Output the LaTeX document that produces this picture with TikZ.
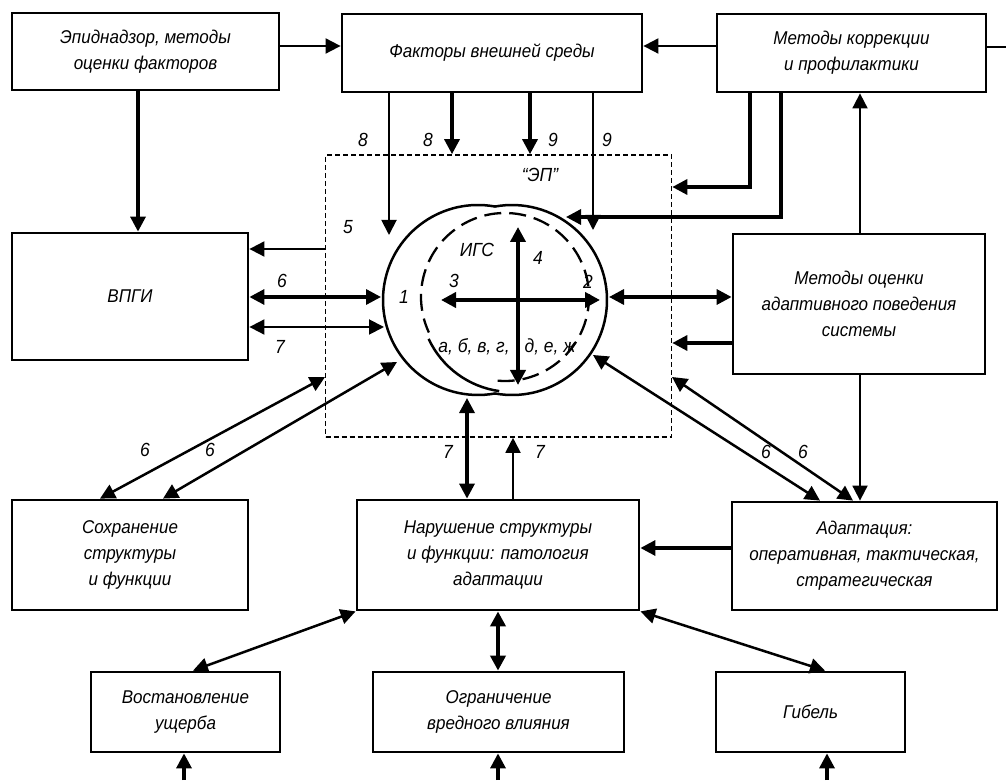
\documentclass[tikz,border=0pt]{standalone}
\usepackage{fontspec}
\setmainfont{Liberation Sans}[FakeStretch=0.92]
\usetikzlibrary{arrows.meta}
\begin{document}
\begin{tikzpicture}[x=1pt,y=1pt,
  >={Triangle[length=15pt,width=15pt]},
  box/.style={draw, line width=2.8pt, align=center, font=\fontsize{18.5}{26}\selectfont\itshape, inner sep=0pt},
  lab/.style={font=\fontsize{19}{20}\selectfont\itshape, inner sep=0pt},
  thinl/.style={line width=1.9pt},
  medl/.style={line width=2.5pt},
  thickl/.style={line width=3.3pt},
  crossl/.style={line width=4.5pt},
  ]
\fill[white] (0,0) rectangle (1006,780);
\useasboundingbox (0,0) rectangle (1006,780);

% boxes
\node[box, minimum width=267pt, minimum height=77pt] (epi) at (145.5,728.5) {Эпиднадзор, методы\\оценки факторов};
\node[box, minimum width=300pt, minimum height=78pt] (fact) at (492,727) {Факторы внешней среды};
\node[box, minimum width=269pt, minimum height=78pt] (korr) at (851.5,727) {Методы коррекции\\и профилактики};
\node[box, minimum width=236pt, minimum height=127pt] (vpgi) at (130,483.5) {ВПГИ};
\node[box, minimum width=252pt, minimum height=140pt] (meth) at (859,476) {Методы оценки\\адаптивного поведения\\системы};
\node[box, minimum width=236pt, minimum height=110pt] (sohr) at (130,225) {Сохранение\\структуры\\и функции};
\node[box, minimum width=282pt, minimum height=110pt] (narush) at (498,225) {Нарушение структуры\\и функции: патология\\адаптации};
\node[box, minimum width=265pt, minimum height=108pt] (adapt) at (864.5,224) {Адаптация:\\оперативная, тактическая,\\стратегическая};
\node[box, minimum width=189pt, minimum height=80pt] (vost) at (185.5,68) {Востановление\\ущерба};
\node[box, minimum width=251pt, minimum height=80pt] (ogran) at (498.5,68) {Ограничение\\вредного влияния};
\node[box, minimum width=189pt, minimum height=80pt] (gibel) at (810.5,68) {Гибель};

% dashed environment box
\node[draw, line width=1.6pt, dash pattern=on 5pt off 3pt, minimum width=346pt, minimum height=282pt, inner sep=0pt] (ep) at (498.5,484) {};

% circles
\coordinate (cL) at (478,480);
\coordinate (cR) at (512,480);
\coordinate (cI) at (505,483);
\draw[medl] ([shift={(79.7:95)}]cL) arc[start angle=79.7, end angle=280.3, radius=95];
\draw[medl] ([shift={(-100.3:95)}]cR) arc[start angle=-100.3, end angle=100.3, radius=95];
\draw[line width=2.3pt, dash pattern=on 17pt off 8pt] ([shift={(-95:84)}]cI) arc[start angle=-95, end angle=205, radius=84];
\draw[medl] ([shift={(205:92)}]cR) arc[start angle=205, end angle=262, radius=92];

% inner cross
\coordinate (h1) at (441,480);
\coordinate (h2) at (600,480);
\coordinate (v1) at (518,553);
\coordinate (v2) at (518,395);
\draw[crossl,<->] (h1) -- (h2);
\draw[crossl,<->] (v1) -- (v2);

% top row
\coordinate (row) at (0,734);
\draw[thinl,->] (epi.east |- row) -- (fact.west |- row);
\draw[thinl,->] (korr.west |- row) -- (fact.east |- row);
\coordinate (redge) at (1006,733);
\draw[thinl] (korr.east |- redge) -- (redge);
\coordinate (e1) at (138,0);
\draw[thickl,->] (e1 |- epi.south) -- (e1 |- vpgi.north);

% from factors
\coordinate (t8) at (389,545);
\coordinate (t9) at (593,550);
\coordinate (x8) at (452,600);
\coordinate (x9) at (530,600);
\draw[thinl,->] (t8 |- fact.south) -- (t8);
\draw[thickl,->] (x8 |- fact.south) -- (x8 |- ep.north);
\draw[thickl,->] (x9 |- fact.south) -- (x9 |- ep.north);
\draw[thinl,->] (t9 |- fact.south) -- (t9);

% from correction methods
\coordinate (k1) at (750,593);
\coordinate (k2) at (781,563);
\coordinate (t2) at (566,563);
\draw[thickl,->] (k1 |- korr.south) -- (k1) -- (k1 -| ep.east);
\draw[thickl,->] (k2 |- korr.south) -- (k2) -- (t2);
\coordinate (m1) at (860,0);
\draw[thinl,->] (m1 |- meth.north) -- (m1 |- korr.south);
\draw[thinl,->] (m1 |- meth.south) -- (m1 |- adapt.north);

% left side
\coordinate (y5) at (0,531);
\draw[thinl,->] (ep.west |- y5) -- (vpgi.east |- y5);
\coordinate (t6) at (381,483);
\draw[thickl,<->] (vpgi.east |- t6) -- (t6);
\coordinate (t7) at (384,453);
\draw[thinl,<->] (vpgi.east |- t7) -- (t7);
\coordinate (d1b) at (325,403);
\coordinate (d2b) at (397,418);
\draw[medl,<->] ([xshift=-30pt]sohr.north) -- (d1b);
\draw[medl,<->] ([xshift=33pt]sohr.north) -- (d2b);

% right side
\coordinate (t6r) at (609,483);
\draw[thickl,<->] (t6r) -- (t6r -| meth.west);
\coordinate (y7r) at (0,437);
\draw[thickl,->] (meth.west |- y7r) -- (ep.east |- y7r);
\coordinate (d3a) at (593,425);
\coordinate (d4a) at (672,403);
\draw[medl,<->] (d3a) -- ([xshift=-44.5pt]adapt.north);
\draw[medl,<->] (d4a) -- ([xshift=-11.5pt]adapt.north);

% bottom of environment
\coordinate (t7b) at (467,382);
\draw[thickl,<->] (t7b |- narush.north) -- (t7b);
\coordinate (x7c) at (513,0);
\draw[thinl,->] (x7c |- narush.north) -- (x7c |- ep.south);
\coordinate (y232) at (0,232);
\draw[thickl,->] (adapt.west |- y232) -- (narush.east |- y232);
\draw[medl,<->] (narush.south west) -- ([xshift=7.5pt]vost.north);
\draw[line width=4pt,<->] (narush.south) -- (narush.south |- ogran.north);
\draw[medl,<->] (narush.south east) -- ([xshift=14.5pt]gibel.north);

% bottom inputs
\coordinate (b1) at (184,0);
\coordinate (b2) at (498,0);
\coordinate (b3) at (827,0);
\draw[thickl,->] (b1) -- (b1 |- vost.south);
\draw[thickl,->] (b2) -- (b2 |- ogran.south);
\draw[thickl,->] (b3) -- (b3 |- gibel.south);

% labels
\node[lab] (l8a) at (363,640) {8};
\node[lab] (l8b) at (428,640) {8};
\node[lab] (l9a) at (553,640) {9};
\node[lab] (l9b) at (607,640) {9};
\node[lab] (lep) at (540,605) {“ЭП”};
\node[lab] (l5) at (348,553) {5};
\node[lab] (l6) at (282,499) {6};
\node[lab] (l7) at (280,433) {7};
\node[lab] (l1) at (404,483) {1};
\node[lab] (l3) at (454,499) {3};
\node[lab] (ligs) at (477,530) {ИГС};
\node[lab] (l4) at (538,522) {4};
\node[lab] (l2) at (588,498) {2};
\node[lab] (labc) at (474,433) {а, б, в, г,};
\node[lab] (ldez) at (550,433) {д, е, ж};
\node[lab] (l6a) at (145,330) {6};
\node[lab] (l6b) at (210,330) {6};
\node[lab] (l7a) at (448,328) {7};
\node[lab] (l7b) at (540,328) {7};
\node[lab] (l6c) at (766,328) {6};
\node[lab] (l6d) at (803,328) {6};
\end{tikzpicture}
\end{document}
